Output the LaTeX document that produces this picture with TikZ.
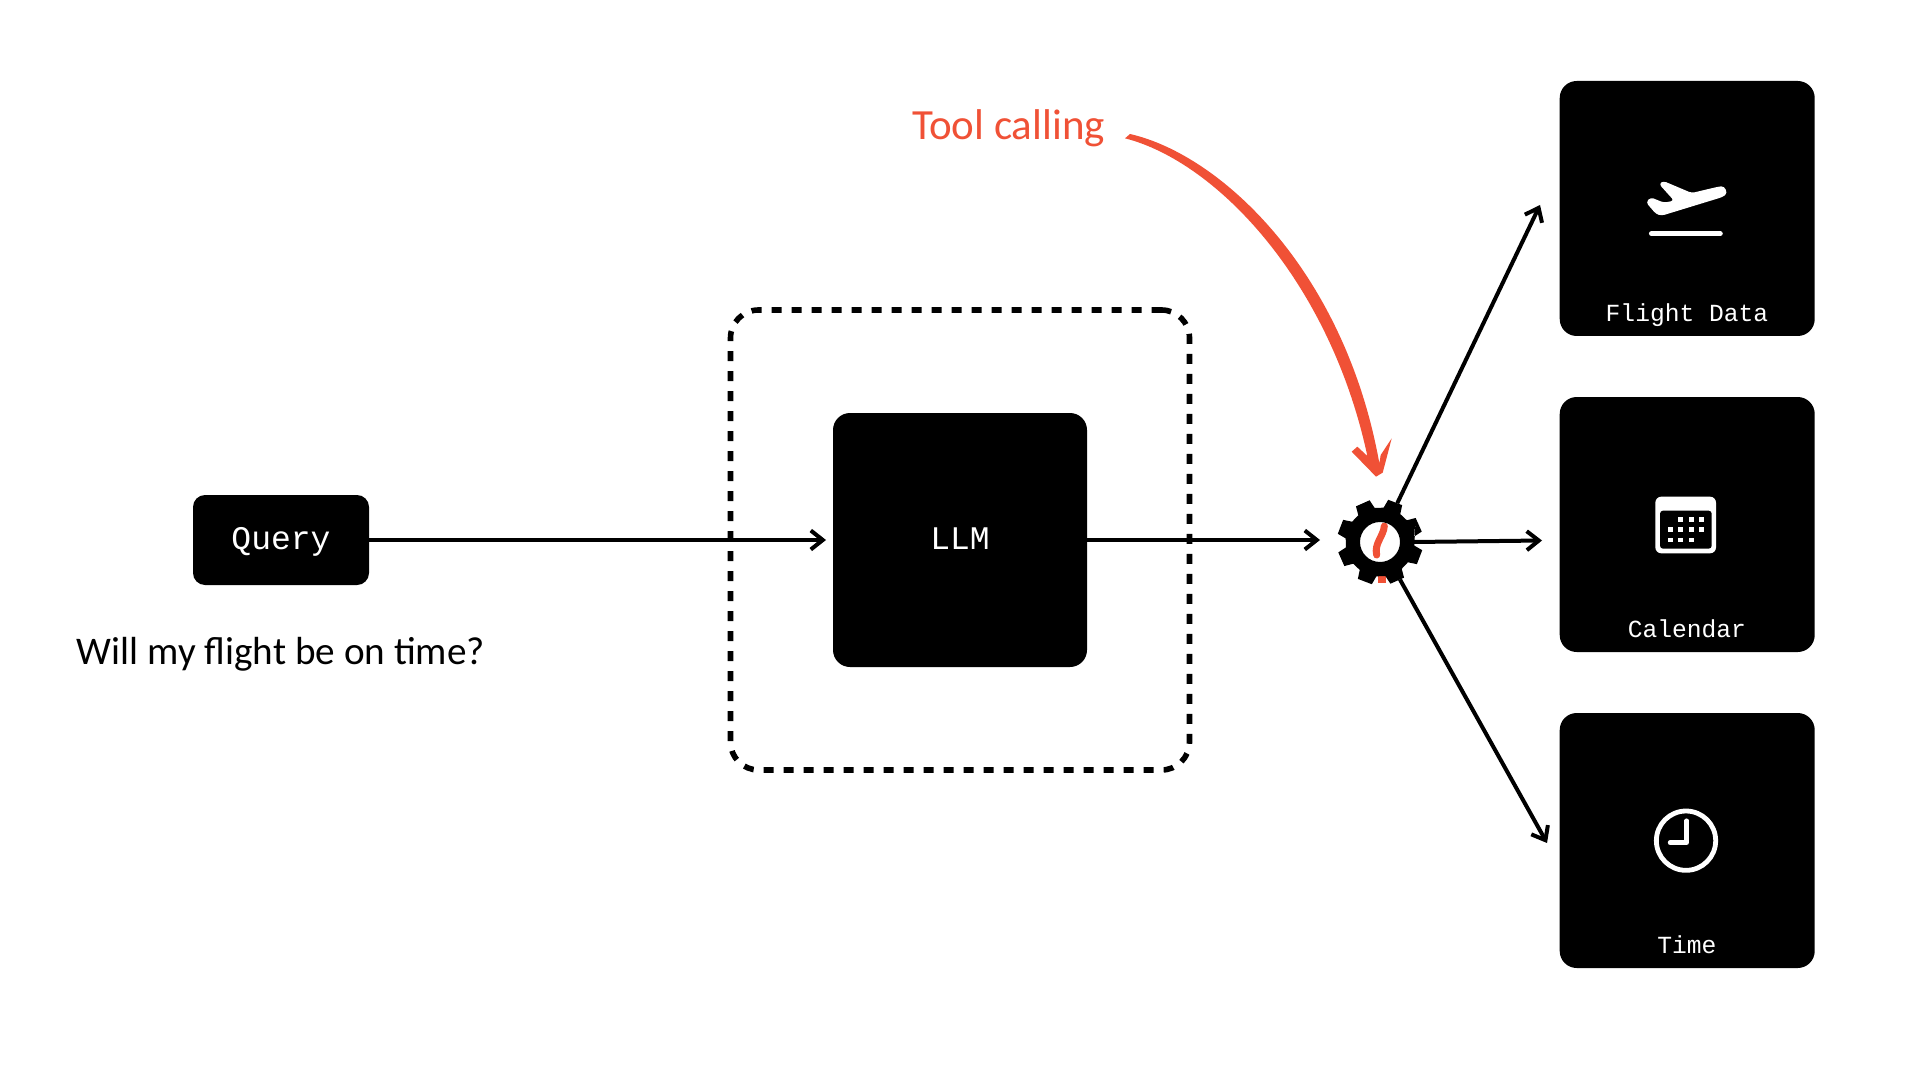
\documentclass[tikz,border=0pt]{standalone}
\usepackage{fontspec}
\usepackage{graphicx}
\usetikzlibrary{arrows.meta}
\setmainfont{Liberation Mono}
\newfontfamily\handfont{Carlito}
\definecolor{toolred}{HTML}{F05136}
\tikzset{
  px/.style={x=0.5pt,y=-0.5pt},
  zoomed/.style={x=0.16667pt,y=-0.16667pt},
  blackbox/.style={fill=black,text=white,inner sep=0pt,outer sep=0pt,rectangle,text height=11.5pt,text depth=2.5pt},
  mainbox/.style={blackbox,rounded corners=8.5pt,minimum width=127pt,minimum height=127pt,font=\fontsize{16.5}{20}\selectfont},
  querybox/.style={blackbox,rounded corners=6pt,minimum width=88pt,minimum height=45pt,font=\fontsize{16.5}{20}\selectfont},
  toolbox/.style={fill=black,inner sep=0pt,outer sep=0pt,rectangle,rounded corners=8.5pt,minimum width=127.5pt,minimum height=127.5pt},
  toollabel/.style={text=white,inner sep=0pt,anchor=base,font=\fontsize{12.3}{15}\selectfont},
  flow/.style={line width=2pt,-{Straight Barb[length=6pt,width=9.5pt,line width=2pt]}},
  hand/.style={inner sep=0pt,font=\handfont},
  dashbox/.style={draw=black,line width=2.8pt,rounded corners=14pt,dash pattern=on 5pt off 5pt,inner sep=0pt,minimum width=229.5pt,minimum height=230pt,rectangle},
  gearhit/.style={circle,inner sep=0pt,minimum size=42pt},
  gearcore/.style={circle,inner sep=0pt,minimum size=33pt},
  icon/.style={fill=white},
}
\begin{document}
\begin{tikzpicture}[px]
\useasboundingbox (0,0) rectangle (1920,1080);
% boxes
\node[dashbox] (scopebox) at (960,540) {};
\node[querybox] (query) at (281,540) {Query};
\node[mainbox] (llm) at (960,540) {LLM};
\node[toolbox] (flight) at (1687.2,208.5) {};
\node[toolbox] (calendar) at (1687.2,524.5) {};
\node[toolbox] (time) at (1687.2,840.5) {};
\node[toollabel] (flightlabel) at (1686.9,321.5) {Flight Data};
\node[toollabel] (calendarlabel) at (1686.9,637.5) {Calendar};
\node[toollabel] (timelabel) at (1686.9,953.5) {Time};
% gear anchor and arrow ends
\node[gearhit] (gear) at (1380,542) {};
\node[gearcore] (gearinner) at (1380,542) {};
\coordinate (gearin) at (1320,540);
\coordinate (llmin) at (826,540);
\coordinate (flightend) at (1540,205);
\coordinate (calendarend) at (1542,540.5);
\coordinate (timeend) at (1547,843);
% connectors
\draw[flow] (query.east) -- (llmin);
\draw[flow] (llm.east) -- (gearin);
\draw[flow] (gear.66) -- (flightend);
\draw[flow] (gearinner.east) -- (calendarend);
\draw[flow] (gear.-62) -- (timeend);
% red brush arrow
\begin{scope}[shift={(1110,120)},zoomed]
\fill[toolred] (45,55) .. controls (320,125) and (660,485) .. (772,1008)
  -- (742,980) -- (725,995) -- (798,1070) -- (818,1058)
  -- (832,1005) -- (845,955) -- (812,1005) -- (808,1030)
  .. controls (705,455) and (335,105) .. (60,42) -- cycle;
\end{scope}
\begin{scope}[shift={(1300,440)},zoomed]
\draw[toolred,line width=3.5pt,line cap=round] (253,258) .. controls (250,290) and (222,310) .. (230,345);
\draw[toolred,line width=4pt] (246,395) -- (246,428);
\end{scope}
% gear
\fill[black,even odd rule]
  (1380,542) ++(-24-10:43) \foreach \a in {24,69,114,159,204,249,294,339}{
    -- ([shift={(1380,542)}]-\a+15:34.5) -- ([shift={(1380,542)}]-\a+10:43) -- ([shift={(1380,542)}]-\a-10:43) -- ([shift={(1380,542)}]-\a-15:34.5)
  } -- cycle
  (1380,542) circle[radius=20];
% plane icon
\begin{scope}[shift={(1550,70)},zoomed]
\fill[icon,rounded corners=1.5pt] (327,342) -- (340,333) -- (425,369) -- (505,350) .. controls (525,348) and (535,368) .. (518,381) -- (335,437) -- (318,432) -- (288,397) -- (302,382) -- (342,398) -- (372,392) -- cycle;
\draw[white,line width=2.4pt,line cap=round] (304,491) -- (511,491);
\end{scope}
% calendar icon
\begin{scope}[shift={(1550,390)},zoomed]
\fill[icon,rounded corners=3pt] (316,320) rectangle (498,490);
\fill[black,rounded corners=1.5pt] (330,362) rectangle (485,476);
\foreach \cx/\cy in {392/388,424/388,455/388,361/419,392/419,424/419,455/419,361/450,392/450,424/450}{
  \fill[icon] (\cx-7,\cy-7) rectangle (\cx+7,\cy+7);
}
\end{scope}
% clock icon
\begin{scope}[shift={(1550,700)},zoomed]
\draw[white,line width=2.4pt] (408,422) circle[radius=89];
\draw[white,line width=2.2pt,line cap=round,line join=round] (410,362) -- (410,428) -- (360,428);
\end{scope}
% handwriting
\node[hand,text=black] (question) at (281,654) {\resizebox{204pt}{!}{Will my flight be on time?}};
\node[hand,text=toolred] (toolcalling) at (1008.5,128) {\resizebox{96.5pt}{!}{Tool calling}};
\end{tikzpicture}
\end{document}
